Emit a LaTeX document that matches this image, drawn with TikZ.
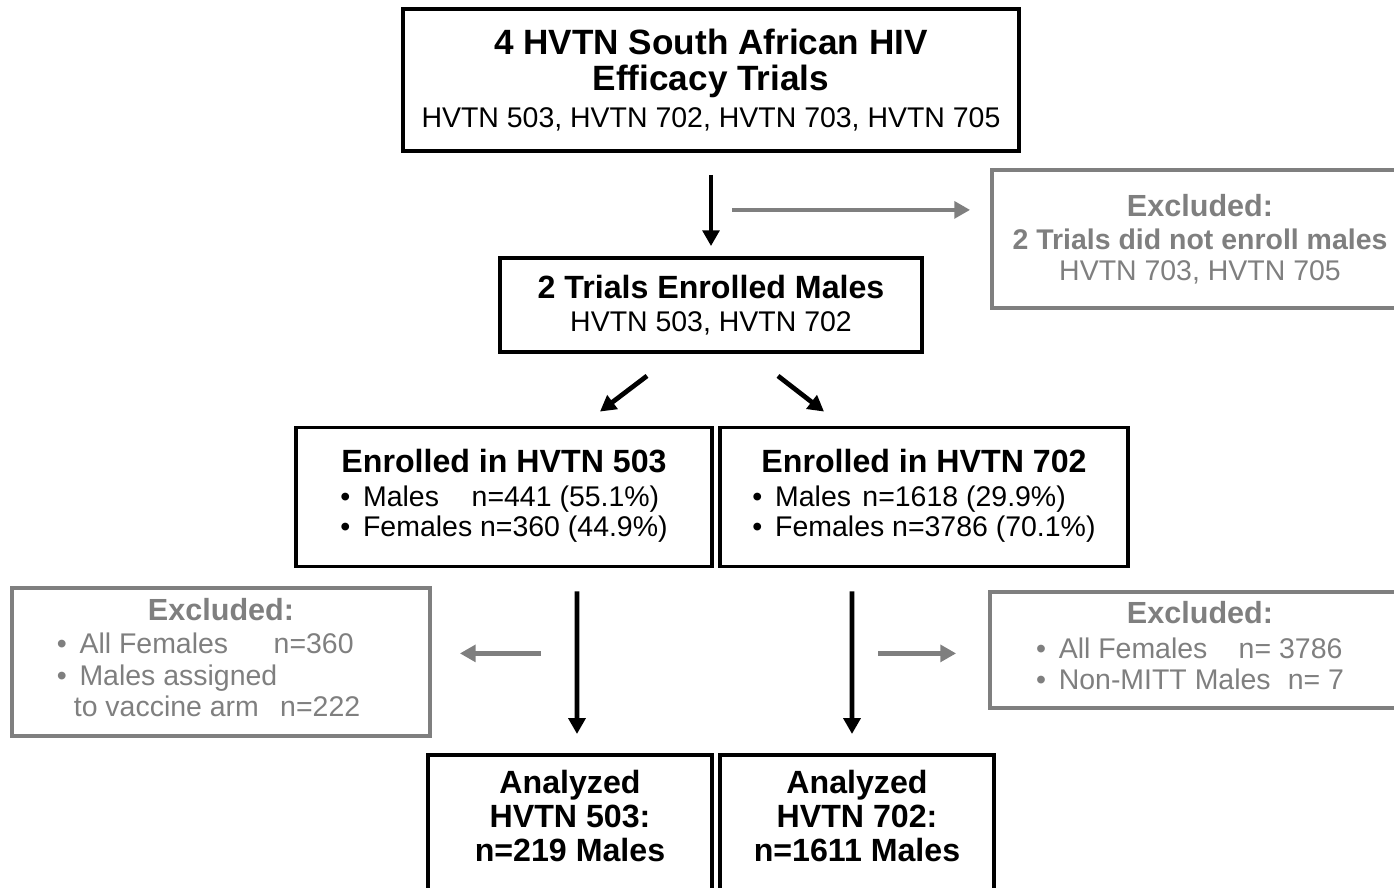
\documentclass[tikz,border=0pt]{standalone}
\usepackage{fontspec}
\setmainfont{Liberation Sans}
\usetikzlibrary{arrows.meta}
\definecolor{exgray}{RGB}{127,127,127}

\newcommand{\titlefont}{\fontsize{20}{21}\selectfont\bfseries}
\newcommand{\headfont}{\fontsize{18.3}{19.5}\selectfont\bfseries}
\newcommand{\bodyfont}{\fontsize{16.2}{16.8}\selectfont\mdseries}
\newcommand{\exbody}{\fontsize{16.2}{17.8}\selectfont\mdseries}
\newcommand{\exhead}{\fontsize{17.4}{18}\selectfont\bfseries}
\newcommand{\exsub}{\fontsize{16.2}{17.5}\selectfont\bfseries}

\begin{document}
\begin{tikzpicture}[x=0.02cm, y=-0.02cm,
    box/.style={draw=black, line width=2.2pt, align=center, inner sep=0pt},
    exbox/.style={draw=exgray, line width=2.2pt, text=exgray, align=center, inner sep=0pt},
    flow/.style={line width=2.7pt, -{Triangle[length=9pt, width=9.5pt]}},
    exflow/.style={flow, draw=exgray}]
    \useasboundingbox (0,0) rectangle (1394,888);

    % Trials and first selection
    \node[box, font=\titlefont, minimum width=12.32cm, minimum height=2.84cm] (trials) at (711,80)
        {4 HVTN South African HIV\\ Efficacy Trials\\ \bodyfont HVTN 503, HVTN 702, HVTN 703, HVTN 705};
    \node[exbox, font=\exsub, minimum width=8.32cm, minimum height=2.76cm] (exTop) at (1200,239)
        {\exhead Excluded:\\[1.5pt] 2 Trials did not enroll males\\ \bodyfont HVTN 703, HVTN 705};
    \node[box, font=\headfont, minimum width=8.44cm, minimum height=1.88cm] (males) at (711,305)
        {2 Trials Enrolled Males\\[-1pt] \bodyfont HVTN 503, HVTN 702};

    % Enrolled per trial
    \node[box, font=\headfont, minimum width=8.32cm, minimum height=2.78cm] (en503) at (504,497)
        {Enrolled in HVTN 503\\ \bodyfont\begin{tabular}[t]{@{}l@{}}
        •\hspace{0.45em}Males\hspace{1.15em}n=441 (55.1\%)\\
        •\hspace{0.45em}Females n=360 (44.9\%)\end{tabular}};
    \node[box, font=\headfont, minimum width=8.16cm, minimum height=2.78cm] (en702) at (924,497)
        {Enrolled in HVTN 702\\ \bodyfont\begin{tabular}[t]{@{}l@{}}
        •\hspace{0.45em}Males\hspace{0.4em}n=1618 (29.9\%)\\
        •\hspace{0.45em}Females n=3786 (70.1\%)\end{tabular}};

    % Exclusions
    \node[exbox, font=\exhead, minimum width=8.36cm, minimum height=2.96cm] (exLeft) at (221,662)
        {Excluded:\\[1pt] \exbody\begin{tabular}[t]{@{}l@{\hspace{0.5cm}}}
        •\hspace{0.45em}All Females\hspace{1.6em}n=360\\
        •\hspace{0.45em}Males assigned\\
        \hspace{0.6em}to vaccine arm\hspace{0.75em}n=222\end{tabular}};
    \node[exbox, font=\exhead, minimum width=8.4cm, minimum height=2.32cm] (exRight) at (1200,650)
        {Excluded:\\[2pt] \exbody\begin{tabular}[t]{@{}l@{\hspace{0.4cm}}}
        •\hspace{0.45em}All Females\hspace{1.1em}n= 3786\\
        •\hspace{0.45em}Non-MITT Males\hspace{0.6em}n= 7\end{tabular}};

    % Analyzed (boxes run past the lower edge)
    \node[box, anchor=north] (an503) at (570,753)
        {\parbox[c][3.1cm][t]{5.68cm}{\centering\headfont\vspace*{0.3cm}Analyzed\\ HVTN 503:\\ n=219 Males}};
    \node[box, anchor=north] (an702) at (857,753)
        {\parbox[c][3.1cm][t]{5.48cm}{\centering\headfont\vspace*{0.3cm}Analyzed\\ HVTN 702:\\ n=1611 Males}};

    % Connectors
    \draw[flow] ([yshift=-0.44cm]trials.south) -- ([yshift=0.2cm]males.north);
    \coordinate (g1s) at ([shift={(0.42cm,-1.14cm)}]trials.south);
    \draw[exflow, shorten >=0.4cm] (g1s) -- (g1s -| exTop.west);
    \draw[flow] ([shift={(-1.28cm,-0.44cm)}]males.south) -- ([shift={(1.92cm,0.28cm)}]en503.north);
    \draw[flow] ([shift={(1.34cm,-0.44cm)}]males.south) -- ([shift={(-2cm,0.28cm)}]en702.north);
    \draw[flow] ([shift={(1.46cm,-0.46cm)}]en503.south) -- ([shift={(0.14cm,0.38cm)}]an503.north);
    \draw[flow] ([shift={(-1.44cm,-0.46cm)}]en702.south) -- ([shift={(-0.1cm,0.38cm)}]an702.north);
    \coordinate (g2s) at ([shift={(0.74cm,-1.7cm)}]en503.south);
    \draw[exflow, shorten >=0.56cm] (g2s) -- (g2s -| exLeft.east);
    \coordinate (g3s) at ([shift={(-0.92cm,-1.7cm)}]en702.south);
    \draw[exflow, shorten >=0.64cm] (g3s) -- (g3s -| exRight.west);
\end{tikzpicture}
\end{document}
